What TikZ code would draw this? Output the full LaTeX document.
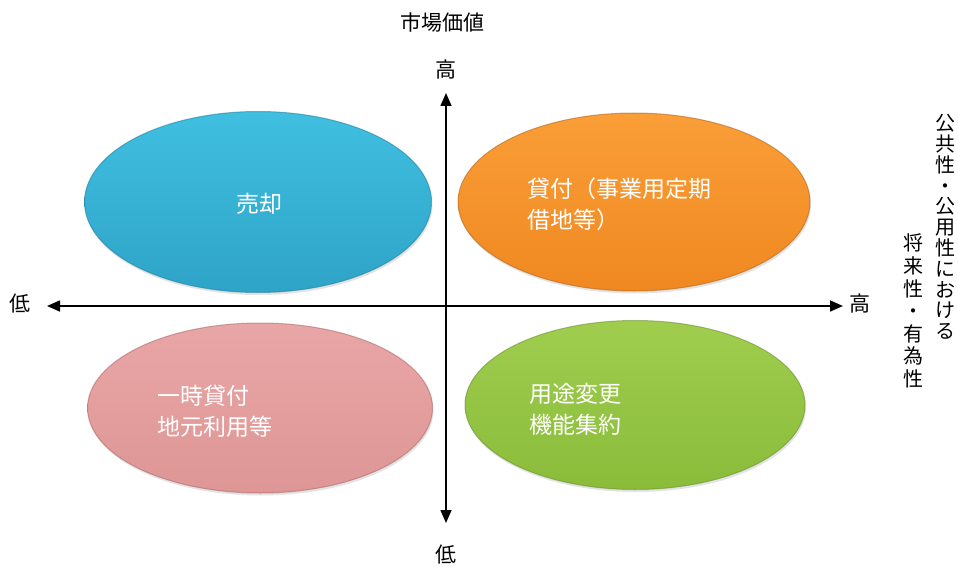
\documentclass[tikz,border=0pt]{standalone}
\usepackage{fontspec}
\setmainfont{Noto Sans CJK JP}
\usetikzlibrary{arrows.meta,shapes.geometric,shadows}
\definecolor{bluetop}{HTML}{40BFE0}
\definecolor{bluebot}{HTML}{2EA4C7}
\definecolor{blueedge}{HTML}{1F7E9C}
\definecolor{orgtop}{HTML}{FA9E38}
\definecolor{orgbot}{HTML}{F08820}
\definecolor{orgedge}{HTML}{B0621A}
\definecolor{pinktop}{HTML}{E9A6A6}
\definecolor{pinkbot}{HTML}{DE9696}
\definecolor{pinkedge}{HTML}{A96565}
\definecolor{grntop}{HTML}{A0CD4E}
\definecolor{grnbot}{HTML}{8ABC3A}
\definecolor{grnedge}{HTML}{688E2A}
\tikzset{
  blob/.style={ellipse, inner sep=0pt, line width=1pt, draw opacity=0.55,
    drop shadow={opacity=0.22, shadow xshift=1pt, shadow yshift=-2.5pt}},
  intext/.style={text=white, font=\fontsize{23}{31}\selectfont, inner sep=0pt, align=left, anchor=west},
  axislabel/.style={text=black, font=\fontsize{21}{21}\selectfont, inner sep=0pt},
  vcol/.style={text=black, align=center, inner sep=0pt},
  axisline/.style={line width=1.6pt, {Triangle[length=13pt,width=11pt]}-{Triangle[length=13pt,width=11pt]}}
}
\begin{document}
\begin{tikzpicture}[x=1pt,y=-1pt]
\useasboundingbox (0,0) rectangle (958,567);
% ellipses
\node[blob, minimum width=347pt, minimum height=181pt, top color=bluetop, bottom color=bluebot, draw=blueedge] (sell) at (258,202) {};
\node[blob, minimum width=352pt, minimum height=178pt, top color=orgtop, bottom color=orgbot, draw=orgedge] (lease) at (634,202) {};
\node[blob, minimum width=345pt, minimum height=170pt, top color=pinktop, bottom color=pinkbot, draw=pinkedge] (temp) at (260,408) {};
\node[blob, minimum width=340pt, minimum height=169pt, top color=grntop, bottom color=grnbot, draw=grnedge] (conv) at (635,405) {};
% texts in ellipses
\node[text=white, font=\fontsize{23}{31}\selectfont, inner sep=0pt] (tsell) at (259,204) {売却};
\node[intext] (tlease) at (527,204) {貸付（事業用定期\\借地等）};
\node[intext] (ttemp) at (157,411) {一時貸付\\地元利用等};
\node[intext] (tconv) at (529,409) {用途変更\\機能集約};
% axes
\coordinate (axL) at (47,306);
\coordinate (axR) at (843,306);
\coordinate (axT) at (446,93);
\coordinate (axB) at (446,523);
\draw[axisline] (axL) -- (axR);
\draw[axisline] (axB) -- (axT);
% labels
\node[axislabel] (title) at (442,23) {市場価値};
\node[axislabel] (hiT) at (446,70) {高};
\node[axislabel] (loB) at (446,555) {低};
\node[axislabel] (loL) at (20,304) {低};
\node[axislabel] (hiR) at (860,304) {高};
% vertical labels
\node[vcol, font=\fontsize{20}{20.8}\selectfont] (v1) at (945,227) {公\\共\\性\\・\\公\\用\\性\\に\\お\\け\\る};
\node[vcol, font=\fontsize{20}{22.6}\selectfont] (v2) at (913,311) {将\\来\\性\\・\\有\\為\\性};
\end{tikzpicture}
\end{document}
